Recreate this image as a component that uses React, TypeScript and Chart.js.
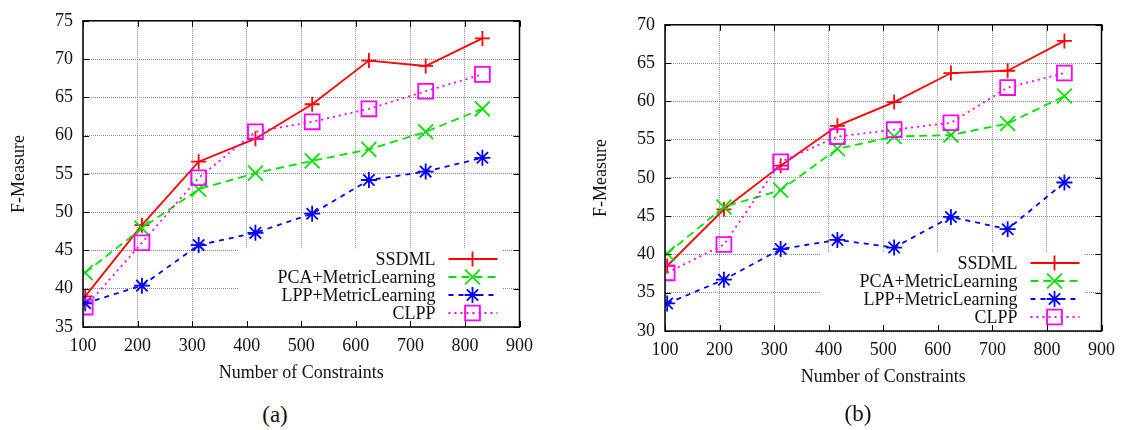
import React, { useEffect, useRef } from 'react';
import { Chart, registerables } from 'chart.js';

Chart.register(...registerables);

// ---- data ----
const constraints = [104, 208, 312, 416, 520, 624, 728, 832];
const xTickValues = [100, 200, 300, 400, 500, 600, 700, 800, 900];
const yTicksA = [35, 40, 45, 50, 55, 60, 65, 70, 75];
const yTicksB = [30, 35, 40, 45, 50, 55, 60, 65, 70];
const seriesNames = ['SSDML', 'PCA+MetricLearning', 'LPP+MetricLearning', 'CLPP'];

const ssdmlA = [39.0, 48.3, 56.6, 59.6, 64.1, 69.8, 69.1, 72.7];
const pcaA = [42.1, 47.9, 53.0, 55.1, 56.7, 58.2, 60.5, 63.5];
const lppA = [38.1, 40.4, 45.7, 47.3, 49.8, 54.2, 55.3, 57.1];
const clppA = [37.6, 46.0, 54.5, 60.5, 61.8, 63.5, 65.8, 68.0];

const ssdmlB = [38.5, 45.9, 51.6, 56.8, 59.9, 63.7, 64.0, 67.9];
const pcaB = [40.1, 46.2, 48.4, 53.8, 55.4, 55.6, 57.1, 60.7];
const lppB = [33.6, 36.7, 40.7, 41.9, 40.9, 44.9, 43.3, 49.4];
const clppB = [37.6, 41.3, 52.1, 55.4, 56.3, 57.2, 61.8, 63.7];

const xTitle = 'Number of Constraints';
const yTitle = 'F-Measure';
const captions = ['(a)', '(b)'];

// ---- styles ----
const FONT = "'Liberation Serif', 'Times New Roman', serif";
const FS = 18;
const seriesStyles = [
  { color: '#ff0000', dash: [] as number[], point: 'cross', r: 7.5, order: 4 },
  { color: '#00e000', dash: [8, 5], point: 'crossRot', r: 10.5, order: 3 },
  { color: '#0000ff', dash: [5, 5], point: 'star', r: 8, order: 2 },
  { color: '#ff00ff', dash: [2, 4], point: 'rect', r: 10.5, order: 1 },
];

function drawMarker(ctx: CanvasRenderingContext2D, kind: string, x: number, y: number, r: number) {
  const d = r * Math.SQRT1_2;
  ctx.beginPath();
  if (kind === 'cross' || kind === 'star') {
    ctx.moveTo(x - r, y); ctx.lineTo(x + r, y);
    ctx.moveTo(x, y - r); ctx.lineTo(x, y + r);
  }
  if (kind === 'crossRot' || kind === 'star') {
    ctx.moveTo(x - d, y - d); ctx.lineTo(x + d, y + d);
    ctx.moveTo(x - d, y + d); ctx.lineTo(x + d, y - d);
  }
  if (kind === 'rect') {
    ctx.rect(x - d, y - d, 2 * d, 2 * d);
  }
  ctx.stroke();
}

const framePlugin = {
  id: 'gnuFrame',
  beforeDatasetsDraw(chart: any) {
    const { ctx, chartArea: ca } = chart;
    ctx.save();
    ctx.fillStyle = '#ffffff';
    ctx.fillRect(ca.right - 281, ca.bottom - 78, 264, 77);
    ctx.restore();
  },
  afterDatasetsDraw(chart: any) {
    const { ctx, chartArea: ca } = chart;
    ctx.save();
    const rows = [-68, -50, -32, -14];
    seriesNames.forEach((name, i) => {
      const st = seriesStyles[i];
      const y = ca.bottom + rows[i];
      ctx.fillStyle = '#111';
      ctx.font = `${FS}px ${FONT}`;
      ctx.textAlign = 'right';
      ctx.textBaseline = 'middle';
      ctx.fillText(name, ca.right - 84, y + 1);
      ctx.strokeStyle = st.color;
      ctx.lineWidth = 1.8;
      ctx.setLineDash(st.dash);
      ctx.beginPath();
      ctx.moveTo(ca.right - 71, y);
      ctx.lineTo(ca.right - 22, y);
      ctx.stroke();
      ctx.setLineDash([]);
      drawMarker(ctx, st.point, ca.right - 47, y, st.r);
    });
    ctx.restore();
  },
  afterDraw(chart: any) {
    const { ctx, chartArea: ca, scales } = chart;
    ctx.save();
    ctx.strokeStyle = '#000';
    ctx.lineWidth = 1;
    ctx.beginPath();
    const xs = scales.x;
    const ys = scales.y;
    xs.ticks.forEach((t: any) => {
      const px = Math.round(xs.getPixelForValue(t.value)) + 0.5;
      ctx.moveTo(px, ca.bottom); ctx.lineTo(px, ca.bottom - 6);
      ctx.moveTo(px, ca.top); ctx.lineTo(px, ca.top + 6);
    });
    ys.ticks.forEach((t: any) => {
      const py = Math.round(ys.getPixelForValue(t.value)) + 0.5;
      ctx.moveTo(ca.left, py); ctx.lineTo(ca.left + 6, py);
      ctx.moveTo(ca.right, py); ctx.lineTo(ca.right - 6, py);
    });
    ctx.stroke();
    ctx.lineWidth = 1.5;
    ctx.strokeRect(ca.left, ca.top, ca.right - ca.left, ca.bottom - ca.top);
    ctx.restore();
  },
};

interface PanelProps {
  series: number[][];
  yTicks: number[];
}

function Panel({ series, yTicks }: PanelProps) {
  const ref = useRef<HTMLCanvasElement>(null);
  useEffect(() => {
    if (!ref.current) return;
    const datasets = series.map((vals, i) => {
      const st = seriesStyles[i];
      return {
        label: seriesNames[i],
        data: constraints.map((c, k) => ({ x: c, y: vals[k] })),
        borderColor: st.color,
        backgroundColor: st.color,
        borderWidth: 1.8,
        borderDash: st.dash,
        pointStyle: st.point,
        pointRadius: st.r,
        pointBorderWidth: 1.8,
        pointBorderColor: st.color,
        pointBackgroundColor: 'rgba(0,0,0,0)',
        tension: 0,
        fill: false,
        order: st.order,
      };
    });
    const chart = new Chart(ref.current, {
      type: 'line',
      data: { datasets: datasets as any },
      options: {
        animation: false,
        responsive: false,
        maintainAspectRatio: false,
        layout: { padding: { top: 18, right: 19, left: 0, bottom: 0 } },
        plugins: { legend: { display: false }, tooltip: { enabled: false } },
        scales: {
          x: {
            type: 'linear',
            min: xTickValues[0],
            max: xTickValues[xTickValues.length - 1],
            afterBuildTicks: (s: any) => { s.ticks = xTickValues.map((v) => ({ value: v })); },
            afterFit: (s: any) => { s.height = 73; },
            grid: { color: '#8a8a8a', lineWidth: 1, drawTicks: false },
            border: { display: false, dash: [1, 1] },
            ticks: { color: '#111', font: { family: FONT, size: FS }, padding: 8, maxRotation: 0 },
            title: { display: true, text: xTitle, color: '#111', font: { family: FONT, size: FS }, padding: { top: 0, bottom: 16 } },
          },
          y: {
            type: 'linear',
            min: yTicks[0],
            max: yTicks[yTicks.length - 1],
            afterBuildTicks: (s: any) => { s.ticks = yTicks.map((v) => ({ value: v })); },
            afterFit: (s: any) => { s.width = 83; },
            grid: { color: '#8a8a8a', lineWidth: 1, drawTicks: false },
            border: { display: false, dash: [1, 1] },
            ticks: { color: '#111', font: { family: FONT, size: FS }, padding: 10 },
            title: { display: true, text: yTitle, color: '#111', font: { family: FONT, size: FS }, padding: { top: 8, bottom: 0 } },
          },
        },
      },
      plugins: [framePlugin as any],
    });
    return () => chart.destroy();
  }, [series, yTicks]);
  return <canvas ref={ref} width={541} height={400} style={{ width: 541, height: 400, display: 'block' }} />;
}

const seriesA = [ssdmlA, pcaA, lppA, clppA];
const seriesB = [ssdmlB, pcaB, lppB, clppB];

export default function App() {
  const capStyle: React.CSSProperties = {
    position: 'absolute', width: 100, textAlign: 'center', fontFamily: FONT,
    fontSize: 23, lineHeight: '26px', color: '#111',
  };
  return (
    <div style={{ position: 'absolute', left: 0, top: 0, width: 1123, height: 430, background: '#fff', overflow: 'hidden' }}>
      <div style={{ position: 'absolute', left: 0, top: 0 }}>
        <Panel series={seriesA} yTicks={yTicksA} />
      </div>
      <div style={{ position: 'absolute', left: 582, top: 4 }}>
        <Panel series={seriesB} yTicks={yTicksB} />
      </div>
      <div style={{ ...capStyle, left: 225, top: 402 }}>{captions[0]}</div>
      <div style={{ ...capStyle, left: 808, top: 401 }}>{captions[1]}</div>
    </div>
  );
}
